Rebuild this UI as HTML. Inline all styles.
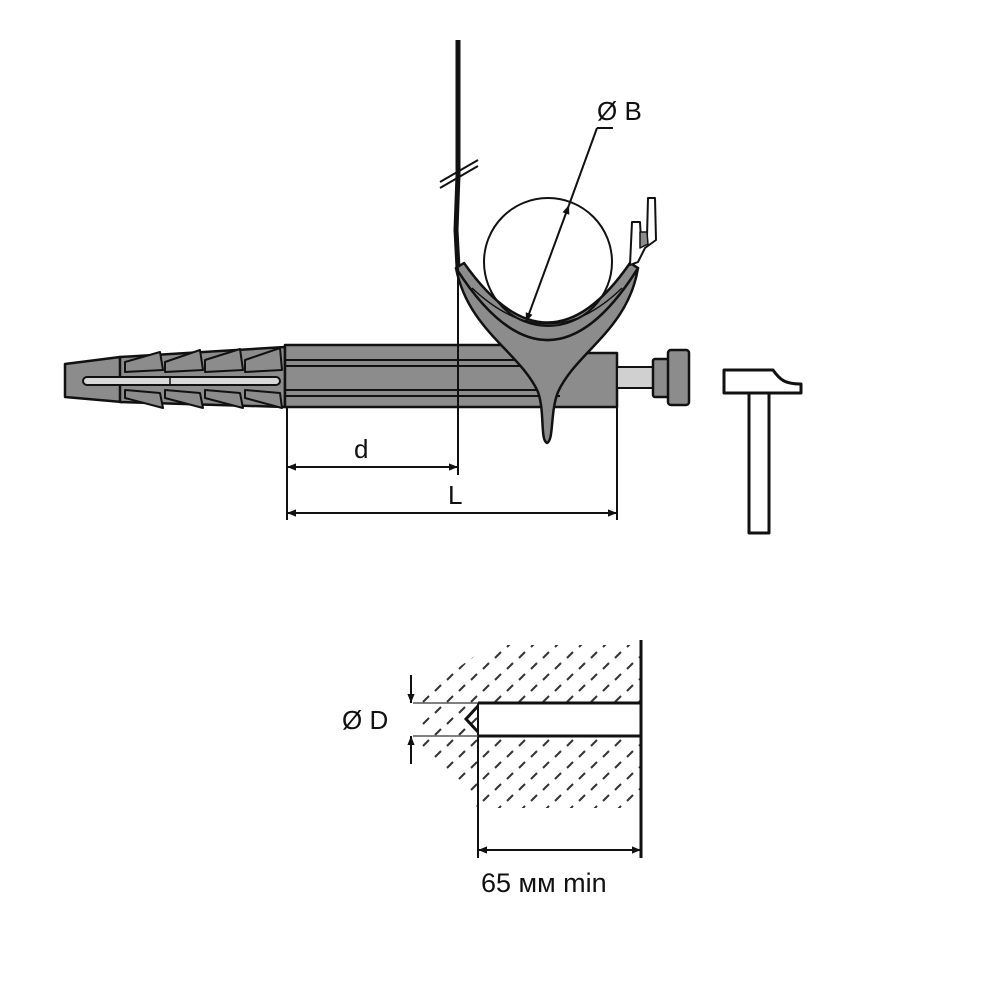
<!DOCTYPE html>
<html><head><meta charset="utf-8"><style>
html,body{margin:0;padding:0;background:#fff;}
svg{display:block;}
text{font-family:"Liberation Sans",sans-serif;fill:#111;}
</style></head><body>
<svg width="1000" height="1000" viewBox="0 0 1000 1000" xmlns="http://www.w3.org/2000/svg">
<defs>
<marker id="ar" viewBox="0 0 10 10" refX="10" refY="5" markerWidth="12" markerHeight="9" orient="auto-start-reverse" markerUnits="userSpaceOnUse"><path d="M0,1 L10,5 L0,9 Z" fill="#111"/></marker>
<pattern id="hatch" width="24" height="22" patternUnits="userSpaceOnUse">
<line x1="3" y1="9" x2="9" y2="3" stroke="#333" stroke-width="2"/>
<line x1="15" y1="20" x2="21" y2="14" stroke="#333" stroke-width="2"/>
</pattern>
</defs>
<g stroke="#111" stroke-width="2.5" stroke-linejoin="round">
<path d="M65,364 L120,357 L122,402 L65,397 Z" fill="#8c8c8c"/>
<path d="M120,357 L285,347 L285,407 L120,402 Z" fill="#8c8c8c"/>
<g fill="#8c8c8c" stroke-width="2">
<path d="M125,362 L160,352 L163,370 L125,372 Z"/>
<path d="M165,362 L200,350 L203,370 L165,372 Z"/>
<path d="M205,360 L240,349 L243,370 L205,372 Z"/>
<path d="M245,360 L280,348 L282,370 L245,372 Z"/>
<path d="M125,390 L160,393 L163,408 L125,398 Z"/>
<path d="M165,390 L200,393 L203,408 L165,398 Z"/>
<path d="M205,390 L240,393 L243,408 L205,398 Z"/>
<path d="M245,390 L280,393 L282,408 L245,398 Z"/>
</g>
<rect x="83" y="377" width="197" height="8" rx="4" fill="#d8d8d8" stroke-width="2"/>
<line x1="170" y1="377" x2="170" y2="385" stroke-width="1.5"/>
<path d="M285,345 L560,345 L560,353 L617,353 L617,407 L285,407 Z" fill="#8c8c8c"/>
<line x1="285" y1="360" x2="560" y2="360" stroke-width="2"/>
<line x1="285" y1="366" x2="560" y2="366" stroke-width="2"/>
<line x1="285" y1="390" x2="560" y2="390" stroke-width="2"/>
<line x1="285" y1="396" x2="560" y2="396" stroke-width="2"/>
<rect x="617" y="367" width="36" height="21" fill="#d0d0d0" stroke-width="2"/>
<rect x="653" y="359" width="16" height="38" rx="2" fill="#8c8c8c"/>
<rect x="668" y="350" width="21" height="55" rx="3" fill="#8c8c8c"/>
<path d="M458,40 L458,175 L456,230 L458,268" fill="none" stroke-width="5"/>
<line x1="440" y1="182" x2="478" y2="160" stroke-width="2"/>
<line x1="440" y1="188" x2="478" y2="166" stroke-width="2"/>
<path d="M456,268 C468,330 520,352 538,392 C545,412 540,440 547,443 C554,440 550,412 558,392 C576,352 628,330 638,268 Q548,412 456,268 Z" fill="#8c8c8c"/>
<path d="M456,268 Q548,412 638,268 L630,263 Q548,382 464,263 Z" fill="#8c8c8c"/>
<path d="M472,288 Q548,360 622,288" fill="none" stroke-width="1.5"/>
<path d="M630,265 L632,222 L640,222 L641,240 L647,237 L648,198 L655,198 L656,240 L645,248 L638,262 Z" fill="#fff" stroke-width="2"/>
<path d="M640,232 L647,232 L648,244 L640,248 Z" fill="#8c8c8c" stroke-width="1.5"/>
<circle cx="548" cy="262" r="64" fill="none" stroke-width="2"/>
</g>
<g stroke="#111" stroke-width="2" fill="none">
<line x1="597" y1="128" x2="613" y2="128"/>
<line x1="597" y1="128" x2="569" y2="205"/>
<line x1="569" y1="205" x2="526" y2="322" marker-start="url(#ar)" marker-end="url(#ar)"/>
</g>
<text x="597" y="120" font-size="26">Ø B</text>
<g stroke="#111" stroke-width="2" fill="none">
<line x1="287" y1="407" x2="287" y2="520"/>
<line x1="458" y1="268" x2="458" y2="475"/>
<line x1="617" y1="407" x2="617" y2="520"/>
<line x1="287" y1="467" x2="458" y2="467" marker-start="url(#ar)" marker-end="url(#ar)"/>
<line x1="287" y1="513" x2="617" y2="513" marker-start="url(#ar)" marker-end="url(#ar)"/>
</g>
<text x="354" y="458" font-size="26">d</text>
<text x="448" y="504" font-size="26">L</text>
<g stroke="#111" stroke-width="3" fill="#fff" stroke-linejoin="round">
<path d="M724,370 L773,370 C780,380 785,384 801,384 L801,393 L724,393 Z"/>
<rect x="749" y="393" width="20" height="140"/>
</g>
<path d="M490,645 L641,645 L641,808 L478,808 L420,748 L420,695 Z" fill="url(#hatch)"/>
<rect x="478" y="703" width="163" height="33" fill="#fff"/>
<g stroke="#111" fill="none">
<line x1="641" y1="640" x2="641" y2="858" stroke-width="3"/>
<line x1="478" y1="703" x2="641" y2="703" stroke-width="3"/>
<line x1="478" y1="736" x2="641" y2="736" stroke-width="3"/>
<line x1="478" y1="703" x2="478" y2="858" stroke-width="2"/>
<path d="M478,706 L466,719 L478,732" stroke-width="3"/>
<line x1="413" y1="703" x2="478" y2="703" stroke-width="1.5" stroke="#555"/>
<line x1="413" y1="736" x2="478" y2="736" stroke-width="1.5" stroke="#555"/>
<line x1="411" y1="675" x2="411" y2="703" stroke-width="2" marker-end="url(#ar)"/>
<line x1="411" y1="764" x2="411" y2="736" stroke-width="2" marker-end="url(#ar)"/>
<line x1="478" y1="850" x2="641" y2="850" stroke-width="2" marker-start="url(#ar)" marker-end="url(#ar)"/>
</g>
<text x="342" y="729" font-size="26">Ø D</text>
<text x="481" y="892" font-size="27">65 мм min</text>
</svg>
</body></html>
